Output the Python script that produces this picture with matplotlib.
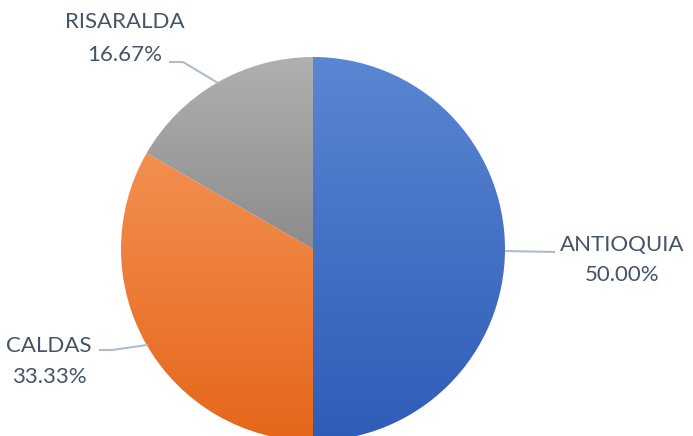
import matplotlib
matplotlib.use("Agg")
import matplotlib.pyplot as plt
import numpy as np
from matplotlib.colors import LinearSegmentedColormap

categories = ["ANTIOQUIA", "CALDAS", "RISARALDA"]
values = [50.00, 33.33, 16.67]
top_colors = ["#5B86D2", "#F38F50", "#B0B0B0"]
bottom_colors = ["#2E5CB8", "#E5661A", "#8C8C8C"]

W, H = 693, 436
fig = plt.figure(figsize=(W / 100, H / 100), dpi=100)
ax = fig.add_axes([0, 0, 1, 1])

cx, cy, r = 313, H - 249, 192
wedges, _ = ax.pie(values, startangle=90, counterclock=False, center=(cx, cy),
                   radius=r, frame=True, wedgeprops=dict(linewidth=0))
ax.set_xlim(0, W)
ax.set_ylim(0, H)
ax.set_aspect("auto")
ax.axis("off")

for w, tc, bc in zip(wedges, top_colors, bottom_colors):
    w.set_facecolor("none")
    bb = w.get_path().get_extents(w.get_patch_transform())
    grad = np.linspace(0, 1, 256).reshape(-1, 1)
    cmap = LinearSegmentedColormap.from_list("g", [tc, bc])
    im = ax.imshow(grad, cmap=cmap, aspect="auto",
                   extent=(bb.x0, bb.x1, bb.y0, bb.y1), origin="upper", zorder=1)
    im.set_clip_path(w)

ax.set_xlim(0, W)
ax.set_ylim(0, H)

tcol = "#44546A"
lcol = "#AEBCCD"
fs = 16
fam = ["Lato", "DejaVu Sans"]

labels = {
    "ANTIOQUIA": (622, 245, 275),
    "CALDAS": (49, 346, 377),
    "RISARALDA": (125, 22, 55),
}
for cat, v in zip(categories, values):
    x, y1, y2 = labels[cat]
    ax.text(x, H - y1, cat, ha="center", va="center", fontsize=fs, color=tcol, family=fam)
    ax.text(x, H - y2, f"{v:.2f}%", ha="center", va="center", fontsize=fs, color=tcol, family=fam)

# leader lines
ax.plot([505, 555], [H - 251, H - 252], color=lcol, lw=1.5, solid_capstyle="butt")
ax.plot([100, 112, 147], [H - 350, H - 350, H - 345], color=lcol, lw=1.5)
ax.plot([170, 183, 218], [H - 62, H - 62, H - 83], color=lcol, lw=1.5)

fig.savefig("out.png", dpi=100)
